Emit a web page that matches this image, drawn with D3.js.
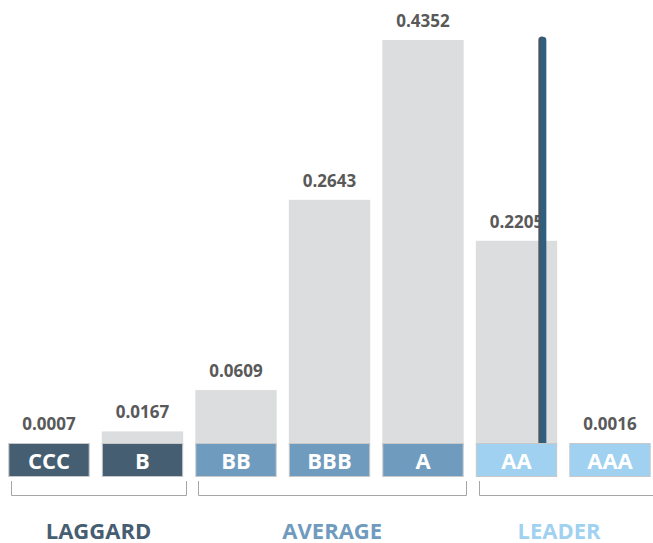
<!DOCTYPE html>
<html>
<head>
<meta charset="utf-8">
<script src="https://cdn.jsdelivr.net/npm/d3@7"></script>
<style>
  body { margin: 0; background: #fff; }
  text { font-family: "Open Sans", Lato, sans-serif; font-weight: bold; }
</style>
</head>
<body>
<script>
// Data
const ratings = ["CCC", "B", "BB", "BBB", "A", "AA", "AAA"];
const shares = [0.0007, 0.0167, 0.0609, 0.2643, 0.4352, 0.2205, 0.0016];
const groupNames = ["LAGGARD", "AVERAGE", "LEADER"];
const groupOf = ["LAGGARD", "LAGGARD", "AVERAGE", "AVERAGE", "AVERAGE", "LEADER", "LEADER"];
const groupColors = ["#465e71", "#6f9bbe", "#a0d1f0"];
// company marker: sits inside the AA band
const markerRating = "AA";
const markerPos = 0.83;

const width = 653, height = 543;

const svg = d3.select("body").append("svg")
  .attr("width", width)
  .attr("height", height);

const x = d3.scaleBand()
  .domain(ratings)
  .range([2.25, 656.75])
  .paddingInner(0.13)
  .paddingOuter(0.065);

const y = d3.scaleLinear()
  .domain([0, d3.max(shares)])
  .range([447, 40]);

const color = d3.scaleOrdinal().domain(groupNames).range(groupColors);

const data = ratings.map((r, i) => ({ rating: r, value: shares[i], group: groupOf[i] }));

// Gray bars
svg.append("g").selectAll("rect")
  .data(data).enter()
  .append("rect")
  .attr("x", d => x(d.rating))
  .attr("y", d => y(d.value))
  .attr("width", x.bandwidth())
  .attr("height", d => y(0) - y(d.value))
  .attr("fill", "#dcdddf");

// Value labels
svg.append("g").selectAll("text")
  .data(data).enter()
  .append("text")
  .attr("x", d => x(d.rating) + x.bandwidth() / 2)
  .attr("y", d => Math.min(y(d.value), 443) - 13)
  .attr("text-anchor", "middle")
  .attr("font-size", 17)
  .attr("fill", "#595959")
  .text(d => d.value.toFixed(4));

// Marker line
const mx = x(markerRating) + x.bandwidth() * markerPos;
svg.append("line")
  .attr("x1", mx - 1.5).attr("x2", mx - 1.5)
  .attr("y1", y(0)).attr("y2", y(d3.max(shares)))
  .attr("stroke", "#4f5459")
  .attr("stroke-width", 7)
  .attr("stroke-linecap", "round");
svg.append("line")
  .attr("x1", mx).attr("x2", mx)
  .attr("y1", y(0)).attr("y2", y(d3.max(shares)))
  .attr("stroke", "#2f5e7f")
  .attr("stroke-width", 6)
  .attr("stroke-linecap", "round");

// Rating boxes
const boxes = svg.append("g").selectAll("g")
  .data(data).enter()
  .append("g");
boxes.append("rect")
  .attr("x", d => x(d.rating) + 0.5)
  .attr("y", 443.5)
  .attr("width", x.bandwidth() - 1)
  .attr("height", 33)
  .attr("fill", d => color(d.group))
  .attr("stroke", "#c6c8ca")
  .attr("stroke-width", 1);
boxes.append("text")
  .attr("x", d => x(d.rating) + x.bandwidth() / 2)
  .attr("y", 468.5)
  .attr("text-anchor", "middle")
  .attr("font-size", 22)
  .attr("fill", "#fff")
  .text(d => d.rating);

// Group brackets and labels
groupNames.forEach(g => {
  const members = data.filter(d => d.group === g);
  const x0 = x(members[0].rating) + 3;
  const x1 = x(members[members.length - 1].rating) + x.bandwidth() + 2.5;
  const right = Math.min(x1, width + 5);
  svg.append("path")
    .attr("d", "M" + (Math.round(x0) + 0.5) + ",481V495.5H" + (Math.round(right) + 0.5) + "V481")
    .attr("fill", "none")
    .attr("stroke", "#a6a6a6")
    .attr("stroke-width", 1);
  const cx = g === "LEADER" ? 559 : (x0 + x1) / 2;
  svg.append("text")
    .attr("x", cx)
    .attr("y", 538.5)
    .attr("text-anchor", "middle")
    .attr("font-size", 22)
    .attr("fill", color(g))
    .text(g);
});
</script>
</body>
</html>
